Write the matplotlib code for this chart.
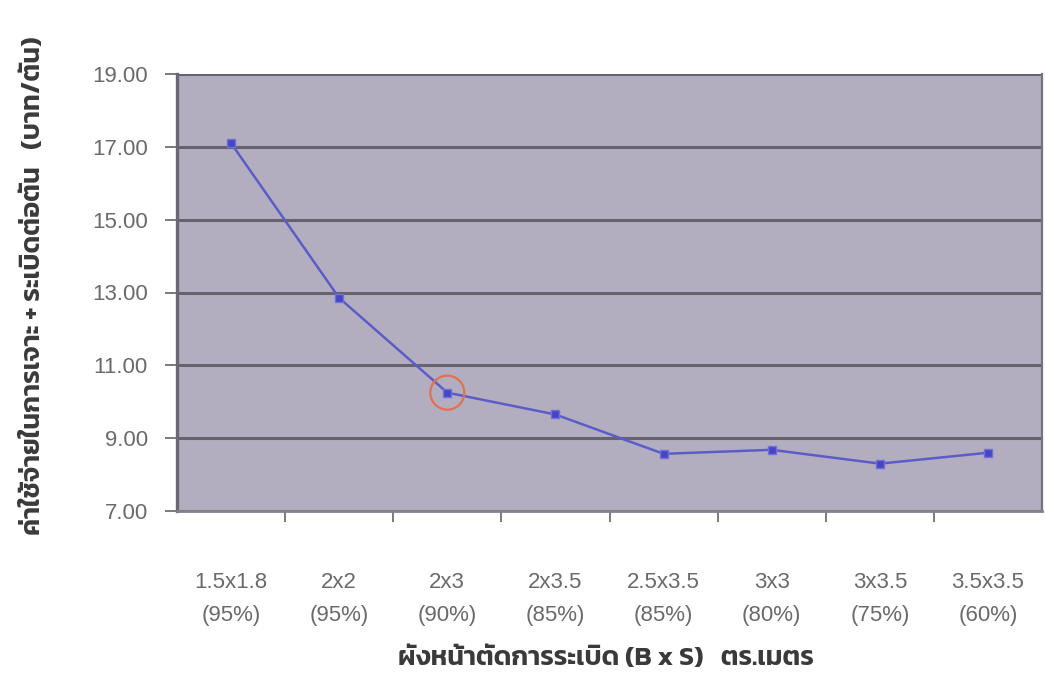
import matplotlib
matplotlib.use("Agg")
import matplotlib.pyplot as plt
from matplotlib.patches import Ellipse
import numpy as np

# Blast pattern sizes (burden x spacing, m) and fragmentation share
patterns = ["1.5x1.8", "2x2", "2x3", "2x3.5", "2.5x3.5", "3x3", "3x3.5", "3.5x3.5"]
shares = ["(95%)", "(95%)", "(90%)", "(85%)", "(85%)", "(80%)", "(75%)", "(60%)"]
# Drilling + blasting cost per ton (baht/ton)
cost = [17.1, 12.85, 10.25, 9.65, 8.57, 8.68, 8.3, 8.6]
highlight = 2  # selected pattern 2x3

y_ticks = [7, 9, 11, 13, 15, 17, 19]

num_font = ["Liberation Sans", "DejaVu Sans"]
thai_font = ["Kanit", "Sarabun", "Noto Sans Thai", "DejaVu Sans"]
txt_color = "#6a6a6a"

W, H = 1045, 684
fig = plt.figure(figsize=(W / 100, H / 100), dpi=100)
fig.patch.set_facecolor("white")

def box(x0, y0, x1, y1):
    return [x0 / W, 1 - y1 / H, (x1 - x0) / W, (y1 - y0) / H]

ax = fig.add_axes(box(177, 74, 1042, 511))
ax.set_facecolor("#b3aebf")
x = np.arange(len(patterns))

ax.set_xlim(-0.5, len(patterns) - 0.5)
ax.set_ylim(min(y_ticks), max(y_ticks))
ax.set_yticks(y_ticks)
ax.set_yticklabels([f"{v:.2f}" for v in y_ticks], fontfamily=num_font,
                   fontsize=16, color=txt_color)
ax.set_xticks(np.arange(0.5, len(patterns) - 0.5, 1.0))
ax.set_xticklabels([])
ax.tick_params(axis="y", length=9, width=1.3, color="#707070", pad=12)
ax.tick_params(axis="x", length=8, width=1.3, color="#707070")
ax.grid(axis="y", color="#67626d", linewidth=2.2)
ax.set_axisbelow(True)
ax.spines["top"].set_visible(False)
ax.spines["left"].set_color("#6a6672")
ax.spines["left"].set_linewidth(2.4)
ax.spines["right"].set_color("#77727e")
ax.spines["right"].set_linewidth(1.6)
ax.spines["bottom"].set_color("#85808c")
ax.spines["bottom"].set_linewidth(2.0)

ax.plot(x, cost, color="#5c5cc9", linewidth=1.8, marker="s", markersize=6,
        markerfacecolor="#4646c2", markeredgecolor="#7070dc", zorder=3)

# ring around the chosen pattern
px_per_x = (1042 - 177) / len(patterns)
px_per_y = (511 - 74) / (max(y_ticks) - min(y_ticks))
r = 17
ax.add_patch(Ellipse((x[highlight], cost[highlight]), 2 * r / px_per_x, 2 * r / px_per_y,
                     fill=False, edgecolor="#e2714f", linewidth=1.6, zorder=4))

# two-line category labels under each pattern
for i, (p, s) in enumerate(zip(patterns, shares)):
    ax.annotate(p, (i, 0), xycoords=ax.get_xaxis_transform(), xytext=(0, -71 * 0.72),
                textcoords="offset points", ha="center", va="center",
                fontfamily=num_font, fontsize=16, color=txt_color)
    ax.annotate(s, (i, 0), xycoords=ax.get_xaxis_transform(), xytext=(0, -105 * 0.72),
                textcoords="offset points", ha="center", va="center",
                fontfamily=num_font, fontsize=16, color=txt_color)

xlab = fig.text(606 / W, 1 - 659 / H, "ผังหน้าตัดการระเบิด (B x S)   ตร.เมตร",
                ha="center", va="center", fontfamily=thai_font, fontweight="semibold",
                fontsize=16, color="#3a3a3a")
ylab = fig.text(34 / W, 1 - 286 / H, "ค่าใช้จ่ายในการเจาะ + ระเบิดต่อตัน   (บาท/ตัน)",
                ha="center", va="center", rotation=90, fontfamily=thai_font,
                fontweight="semibold", fontsize=16, color="#3a3a3a")

# size the axis titles to their span along the chart edges
renderer = fig.canvas.get_renderer()
for t, span, along in ((xlab, 415, "w"), (ylab, 500, "h")):
    ext = t.get_window_extent(renderer)
    cur = ext.width if along == "w" else ext.height
    t.set_fontsize(t.get_fontsize() * span / cur)

fig.savefig("out.png", dpi=100)
